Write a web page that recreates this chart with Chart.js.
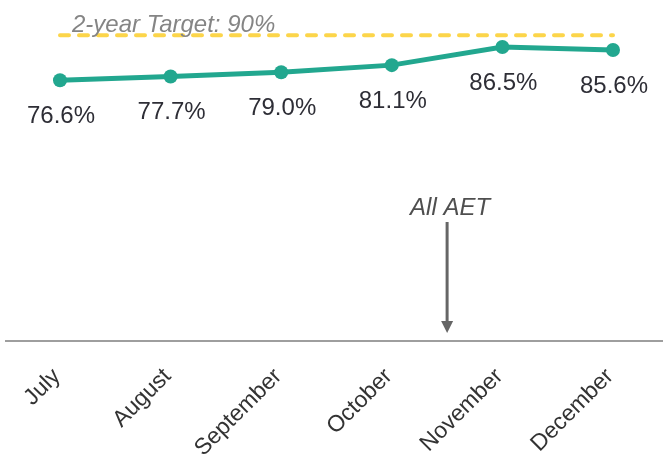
<!DOCTYPE html>
<html>
<head>
<meta charset="utf-8">
<script src="https://cdn.jsdelivr.net/npm/chart.js@4"></script>
<style>
  html, body { margin: 0; padding: 0; background: #ffffff; overflow: hidden; }
  #wrap { width: 663px; height: 460px; position: relative; }
</style>
</head>
<body>
<div id="wrap"><canvas id="c" width="663" height="460"></canvas></div>
<script>
const months = ["July", "August", "September", "October", "November", "December"];
const rates = [76.6, 77.7, 79.0, 81.1, 86.5, 85.6];
const targetValue = 90;
const targetLabel = "2-year Target: 90%";
const annotationLabel = "All AET";
const targetSeries = months.map(() => targetValue);

const FONT = "'Liberation Sans', Arial, sans-serif";

const labelsPlugin = {
  id: 'customDraw',
  beforeDatasetsDraw(chart) {
    const ctx = chart.ctx;
    const area = chart.chartArea;
    ctx.save();
    ctx.strokeStyle = '#9e9e9e';
    ctx.lineWidth = 2;
    ctx.beginPath();
    ctx.moveTo(area.left - 55, area.bottom);
    ctx.lineTo(chart.width, area.bottom);
    ctx.stroke();
    ctx.restore();
  },
  afterDatasetsDraw(chart) {
    const ctx = chart.ctx;
    const area = chart.chartArea;
    const xs = chart.scales.x, ys = chart.scales.y;
    const meta = chart.getDatasetMeta(1);
    ctx.save();
    ctx.font = "24px " + FONT;
    ctx.fillStyle = '#2e2e36';
    ctx.textAlign = 'center';
    ctx.textBaseline = 'middle';
    meta.data.forEach((pt, i) => {
      ctx.fillText(rates[i].toFixed(1) + '%', pt.x + 1, pt.y + 36);
    });
    ctx.font = "italic 24px " + FONT;
    ctx.fillStyle = '#858585';
    ctx.textAlign = 'left';
    ctx.textBaseline = 'alphabetic';
    ctx.fillText(targetLabel, xs.getPixelForValue(0) + 12, ys.getPixelForValue(targetValue) - 3);
    const ax = (xs.getPixelForValue(3) + xs.getPixelForValue(4)) / 2;
    ctx.fillStyle = '#4f4f4f';
    ctx.textAlign = 'center';
    ctx.fillText(annotationLabel, ax + 3, 215);
    ctx.strokeStyle = '#666666';
    ctx.fillStyle = '#666666';
    ctx.lineWidth = 3;
    ctx.beginPath();
    ctx.moveTo(ax, 222);
    ctx.lineTo(ax, area.bottom - 18);
    ctx.stroke();
    ctx.beginPath();
    ctx.moveTo(ax - 6, area.bottom - 20);
    ctx.lineTo(ax + 6, area.bottom - 20);
    ctx.lineTo(ax, area.bottom - 8);
    ctx.closePath();
    ctx.fill();
    ctx.restore();
  }
};

new Chart(document.getElementById('c'), {
  type: 'line',
  data: {
    labels: months,
    datasets: [
      {
        label: 'Target',
        data: targetSeries,
        borderColor: '#fcd54a',
        borderWidth: 4,
        borderDash: [9, 10],
        borderCapStyle: 'round',
        pointRadius: 0,
        fill: false
      },
      {
        label: 'Rate',
        data: rates,
        borderColor: '#22a78f',
        backgroundColor: '#22a78f',
        borderWidth: 5,
        pointRadius: 7,
        pointBorderWidth: 0,
        pointBackgroundColor: '#22a78f',
        tension: 0,
        fill: false
      }
    ]
  },
  options: {
    responsive: false,
    animation: false,
    devicePixelRatio: 1,
    layout: { padding: { left: 60, right: 50, top: 1, bottom: 0 } },
    plugins: { legend: { display: false }, tooltip: { enabled: false } },
    scales: {
      y: { display: false, min: -1, max: 98.4 },
      x: {
        offset: false,
        grid: { display: false, drawTicks: false },
        border: { display: false },
        ticks: {
          autoSkip: false,
          minRotation: 45,
          maxRotation: 45,
          padding: 22,
          labelOffset: -3,
          color: '#333333',
          font: { family: FONT, size: 23 }
        },
        afterFit(scale) { scale.height = 119; }
      }
    }
  },
  plugins: [labelsPlugin]
});
</script>
</body>
</html>
